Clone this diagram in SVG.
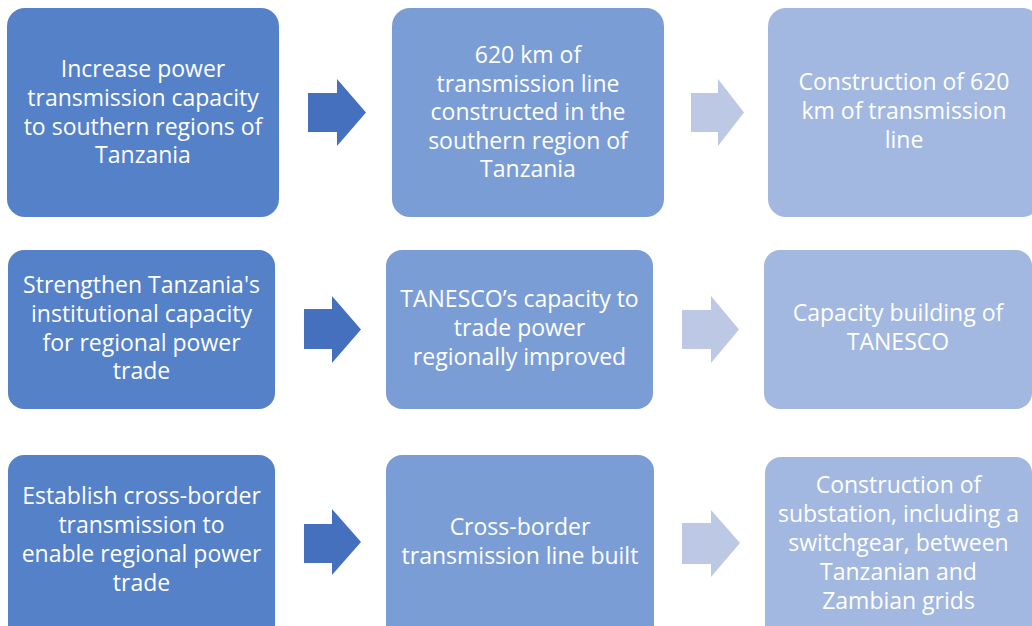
<svg xmlns="http://www.w3.org/2000/svg" width="1032" height="626" viewBox="0 0 1032 626">
<style>
.c1{fill:#5581C9}
.c2{fill:#7B9DD5}
.c3{fill:#A2B8E0}
.ad{fill:#4470BE}
.al{fill:#BDC8E4}
text{font-family:"Open Sans","Liberation Sans",sans-serif;font-size:23px;fill:#FFFFFF;text-anchor:middle}
</style>
<rect width="1032" height="626" fill="#FFFFFF"/>
<g id="connectors">
<polygon class="ad" points="308,93 337,93 337,79 366,112.5 337,146 337,132 308,132"/>
<polygon class="al" points="691,93 718,93 718,79 744,112.5 718,146 718,132 691,132"/>
<polygon class="ad" points="304,309 332,309 332,296 361,329.5 332,363 332,349 304,349"/>
<polygon class="al" points="682,310 711,310 711,296 739,329.5 711,363 711,349 682,349"/>
<polygon class="ad" points="304,524 332,524 332,509 361,542 332,575 332,563 304,563"/>
<polygon class="al" points="682,523 711,523 711,510 740,543 711,577 711,564 682,564"/>
</g>
<g id="n1">
<rect class="c1" x="7" y="8" width="272" height="209" rx="18"/>
<text x="143" y="77">Increase power</text>
<text x="143" y="106">transmission capacity</text>
<text x="143" y="135">to southern regions of</text>
<text x="143" y="163">Tanzania</text>
</g>
<g id="n2">
<rect class="c2" x="392" y="8" width="272" height="209" rx="18"/>
<text x="528" y="63">620 km of</text>
<text x="528" y="92">transmission line</text>
<text x="528" y="120">constructed in the</text>
<text x="528" y="149">southern region of</text>
<text x="528" y="177">Tanzania</text>
</g>
<g id="n3">
<rect class="c3" x="768" y="8" width="272" height="209" rx="18"/>
<text x="904" y="90">Construction of 620</text>
<text x="904" y="119">km of transmission</text>
<text x="904" y="148">line</text>
</g>
<g id="n4">
<rect class="c1" x="8" y="250" width="267" height="159" rx="16"/>
<text x="141.5" y="293">Strengthen Tanzania's</text>
<text x="141.5" y="322">institutional capacity</text>
<text x="141.5" y="351">for regional power</text>
<text x="141.5" y="379">trade</text>
</g>
<g id="n5">
<rect class="c2" x="386" y="250" width="267" height="159" rx="16"/>
<text x="519.5" y="307">TANESCO’s capacity to</text>
<text x="519.5" y="336">trade power</text>
<text x="519.5" y="365">regionally improved</text>
</g>
<g id="n6">
<rect class="c3" x="764" y="250" width="268" height="159" rx="16"/>
<text x="898" y="321">Capacity building of</text>
<text x="898" y="350">TANESCO</text>
</g>
<g id="n7">
<rect class="c1" x="8" y="455" width="267" height="190" rx="16"/>
<text x="141.5" y="504">Establish cross-border</text>
<text x="141.5" y="533">transmission to</text>
<text x="141.5" y="562">enable regional power</text>
<text x="141.5" y="591">trade</text>
</g>
<g id="n8">
<rect class="c2" x="386" y="455" width="268" height="190" rx="16"/>
<text x="520" y="535">Cross-border</text>
<text x="520" y="564">transmission line built</text>
</g>
<g id="n9">
<rect class="c3" x="765" y="457" width="267" height="190" rx="16"/>
<text x="898.5" y="493">Construction of</text>
<text x="898.5" y="522">substation, including a</text>
<text x="898.5" y="551">switchgear, between</text>
<text x="898.5" y="580">Tanzanian and</text>
<text x="898.5" y="609">Zambian grids</text>
</g>
</svg>
